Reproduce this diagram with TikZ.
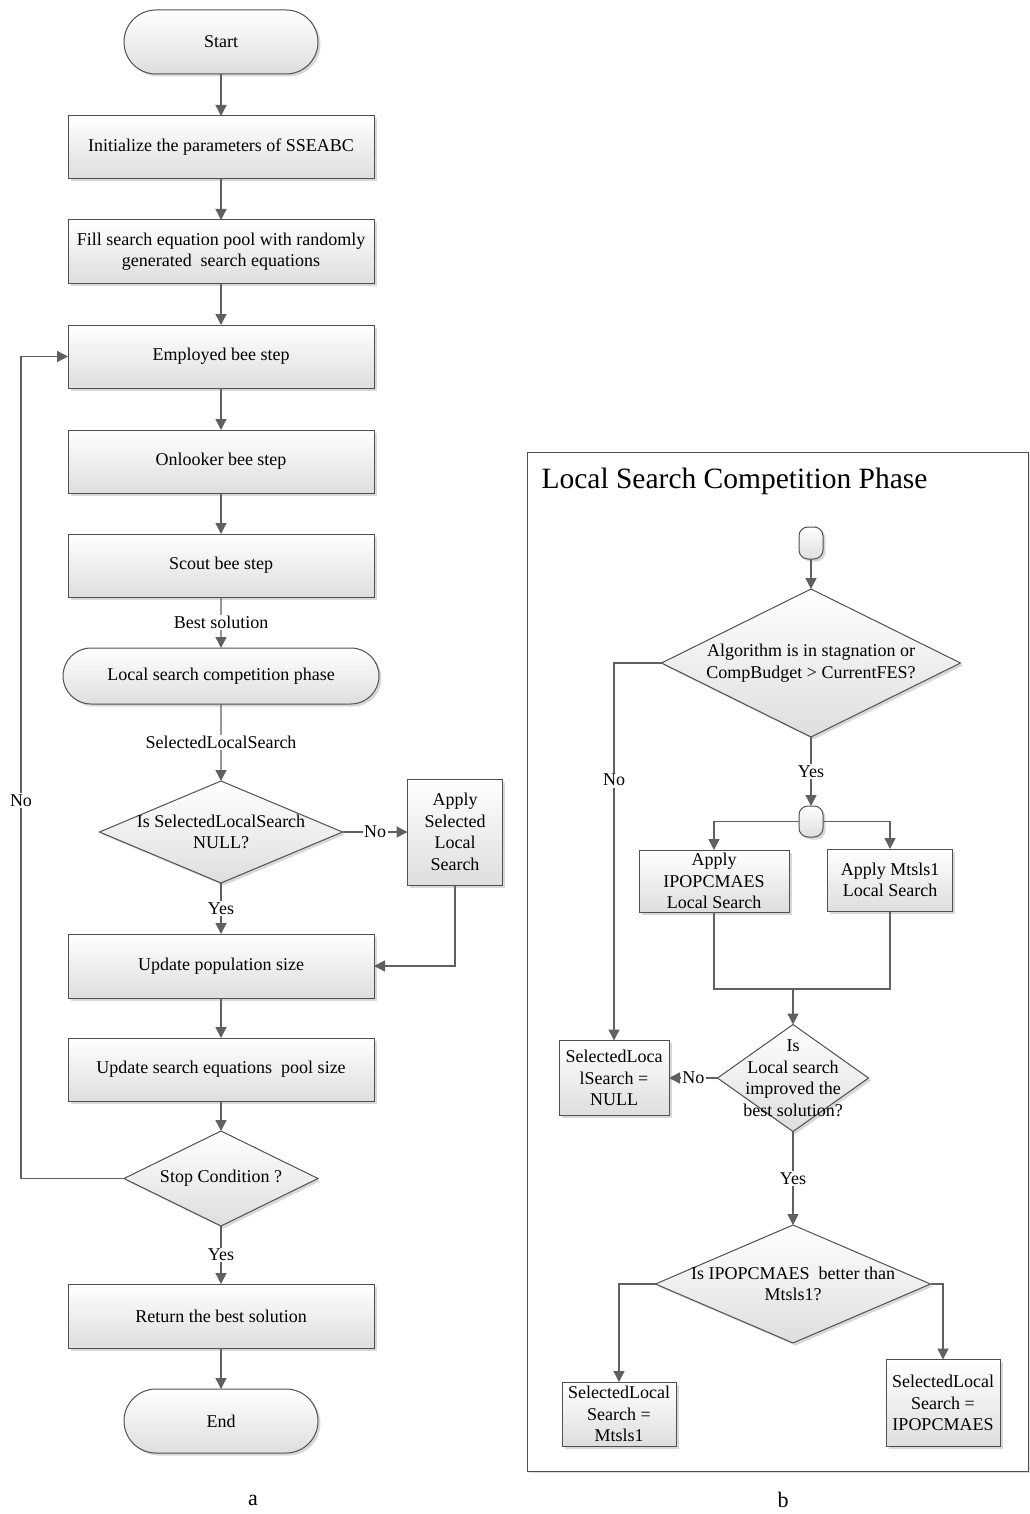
\documentclass[tikz,border=0pt]{standalone}
\usepackage{fontspec}
\setmainfont{Liberation Serif}
\usepackage{xcolor}
\usetikzlibrary{positioning,shapes.geometric,shapes.misc,arrows.meta,shadows,calc}

\definecolor{linegray}{HTML}{606060}
\definecolor{edgegray}{HTML}{505050}

\begin{document}
\begin{tikzpicture}[
    x=1pt, y=-1pt,
    >={Triangle[length=11pt,width=11pt]},
    node distance=42pt,
    base/.style={draw=edgegray,line width=1pt,top color=white,bottom color=black!13,
        drop shadow={shadow xshift=2.5pt,shadow yshift=-2.5pt,fill=black!30,opacity=0.5},
        align=center,font=\fontsize{18}{21.5}\selectfont,inner sep=1pt,outer sep=0pt},
    procbox/.style={base,rectangle,minimum width=306pt,minimum height=63pt},
    term/.style={base,rounded rectangle,minimum width=196pt,minimum height=64pt},
    smallterm/.style={base,rectangle,rounded corners=9pt,minimum width=24pt,minimum height=32pt},
    dec/.style={base,diamond,inner sep=0pt},
    dtext/.style={label={[font=\fontsize{18}{21.5}\selectfont,align=center]center:#1}},
    panelbox/.style={draw=edgegray,line width=1pt,fill=white,
        drop shadow={shadow xshift=2pt,shadow yshift=-2pt,fill=black!25,opacity=0.5}},
    lbl/.style={fill=white,inner sep=1.5pt,font=\fontsize{18}{21.5}\selectfont},
    arr/.style={->,draw=linegray,line width=1.4pt},
    ln/.style={draw=linegray,line width=1.4pt}
]
\useasboundingbox (0,0) rectangle (1029,1514);

% main loop (a)
\node[term] (start) at (221,42) {Start};
\node[procbox,below=of start] (init) {Initialize the parameters of SSEABC};
\node[procbox,below=41pt of init] (fill) {Fill search equation pool with randomly\\generated\ \ search equations};
\node[procbox,below=of fill] (emp) {Employed bee step};
\node[procbox,below=of emp] (onl) {Onlooker bee step};
\node[procbox,below=41pt of onl] (scout) {Scout bee step};
\node[term,minimum width=318pt,minimum height=56pt,below=51pt of scout] (lsc) {Local search competition phase};
\node[dec,minimum width=243pt,minimum height=102pt,below=77pt of lsc,dtext={Is SelectedLocalSearch\\NULL?}] (isnull) {};
\node[procbox,minimum width=95pt,minimum height=106pt,right=65pt of isnull] (apply) {Apply\\Selected\\Local\\Search};
\node[procbox,minimum height=64pt,below=51pt of isnull] (pop) {Update population size};
\node[procbox,below=40pt of pop] (pool) {Update search equations\ \ pool size};
\node[dec,minimum width=194pt,minimum height=95pt,below=30pt of pool,dtext={Stop Condition ?}] (stop) {};
\node[procbox,minimum height=64pt,below=58pt of stop] (ret) {Return the best solution};
\node[term,below=41pt of ret] (end) {End};

\draw[arr] (start) -- (init);
\draw[arr] (init) -- (fill);
\draw[arr] (fill) -- (emp);
\draw[arr] (emp) -- (onl);
\draw[arr] (onl) -- (scout);
\draw[arr] (scout) -- node[lbl]{Best solution} (lsc);
\draw[arr] (lsc) -- node[lbl]{SelectedLocalSearch} (isnull);
\draw[arr] (isnull) -- node[lbl]{No} (apply);
\draw[arr] (isnull) -- node[lbl]{Yes} (pop);
\draw[arr] (apply) |- (pop);
\draw[arr] (pop) -- (pool);
\draw[arr] (pool) -- (stop);
\draw[arr] (stop.west) -- ++(-103,0) |- node[lbl,pos=0.23]{No} (emp.west);
\draw[arr] (stop) -- node[lbl]{Yes} (ret);
\draw[arr] (ret) -- (end);

% competition phase (b)
\node[panelbox,minimum width=501pt,minimum height=1019pt] (panel) at (777.5,961.5) {};
\node[anchor=west,font=\fontsize{29.5}{34}\selectfont] (title) at (538,481) {Local Search Competition Phase};
\node[smallterm] (entry) at (811,543) {};
\node[dec,minimum width=299pt,minimum height=148pt,below=30pt of entry,
      dtext={Algorithm is in stagnation or\\CompBudget > CurrentFES?}] (stag) {};
\node[smallterm,minimum height=31pt,below=69pt of stag] (fork) {};
\node[procbox,minimum width=150pt,minimum height=62pt] (ipop) at (714,881) {Apply\\IPOPCMAES\\Local Search};
\node[procbox,minimum width=125pt,minimum height=62pt] (mts) at (890,880) {Apply Mtsls1\\Local Search};
\coordinate (join) at (793,989);
\node[dec,minimum width=151pt,minimum height=107pt,
      dtext={Is\\Local search\\improved the\\best solution?}] (impr) at (793,1078) {};
\node[procbox,minimum width=110pt,minimum height=75pt] (setnull) at (614,1078) {SelectedLoca\\lSearch =\\NULL};
\node[dec,minimum width=275pt,minimum height=118pt,
      dtext={Is IPOPCMAES\ \ better than\\Mtsls1?}] (cmp) at (793,1284) {};
\node[procbox,minimum width=114pt,minimum height=64pt] (setm) at (619,1414) {SelectedLocal\\Search =\\Mtsls1};
\node[procbox,minimum width=114pt,minimum height=87pt] (seti) at (943,1403) {SelectedLocal\\Search =\\IPOPCMAES};

\draw[arr] (entry) -- (stag);
\draw[arr] (stag) -- node[lbl]{Yes} (fork);
\draw[arr] (stag.west) -| node[lbl,pos=0.655]{No} (setnull.north);
\draw[arr] (fork.west) -| (ipop.north);
\draw[arr] (fork.east) -| (mts.north);
\draw[ln] (ipop.south) |- (join) -| (mts.south);
\draw[arr] (join) -- (impr);
\draw[arr] (impr) -- node[lbl]{No} (setnull);
\draw[arr] (impr) -- node[lbl]{Yes} (cmp);
\draw[arr] (cmp.west) -| (setm.north);
\draw[arr] (cmp.east) -| (seti.north);

\node[font=\fontsize{22}{26}\selectfont] (capa) at (253,1500) {a};
\node[font=\fontsize{22}{26}\selectfont] (capb) at (783,1500) {b};
\end{tikzpicture}
\end{document}
